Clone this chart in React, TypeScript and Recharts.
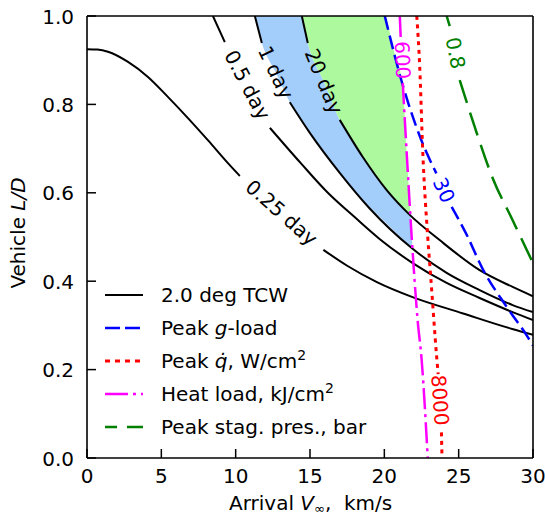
import React from 'react'
import { ComposedChart, Line, Area, XAxis, YAxis, ReferenceDot } from 'recharts'

type Pt = [number, number]
type Band = [number, number, number]

const FONT = 'DejaVu Sans, sans-serif'

const xTicks = [0, 5, 10, 15, 20, 25, 30]
const yTicks = [0, 0.2, 0.4, 0.6, 0.8, 1.0]

// 2.0 deg TCW contours (V_inf, L/D); each is split where its inline label sits
const day025A: Pt[] = [[0, 0.925], [0.7, 0.924], [1.41, 0.919], [2.76, 0.896], [4.1, 0.862], [5.44, 0.817], [6.79, 0.769], [8.13, 0.719], [9.48, 0.667], [10.28, 0.638]]
const day025B: Pt[] = [[15.9, 0.471], [17.5, 0.435], [19.5, 0.398], [21.9, 0.364], [25.3, 0.327], [28.6, 0.292], [30, 0.279]]
const day05A: Pt[] = [[8.47, 1.0], [9.27, 0.941]]
const day05B: Pt[] = [[12.3, 0.747], [14.38, 0.667], [16.2, 0.6], [18.0, 0.545], [19.7, 0.495], [21.91, 0.441], [24.19, 0.396], [26.41, 0.362], [28.63, 0.33], [30, 0.312]]
const day1A: Pt[] = [[11.29, 1.0], [11.76, 0.939]]
const day1B: Pt[] = [[13.64, 0.805], [15.0, 0.735], [17.0, 0.645], [19.0, 0.565], [21.84, 0.475], [24.19, 0.419], [26.41, 0.38], [28.63, 0.346], [30, 0.33]]
const day20A: Pt[] = [[14.45, 1.0], [14.85, 0.939]]
const day20B: Pt[] = [[17.0, 0.765], [18.55, 0.681], [20.16, 0.606], [21.71, 0.55], [23.72, 0.493], [26.41, 0.425], [28.63, 0.387], [30, 0.366]]

// constraint contours
const gloadA: Pt[] = [[20.03, 1.0], [21.27, 0.84], [22.49, 0.719], [23.5, 0.644]]
const gloadB: Pt[] = [[24.53, 0.568], [25.54, 0.505], [26.61, 0.428], [28.23, 0.342], [29.64, 0.274], [30, 0.254]]
const qdotA: Pt[] = [[22.18, 1.0], [22.38, 0.885], [22.58, 0.697], [22.92, 0.5], [23.12, 0.41], [23.52, 0.229], [23.62, 0.19]]
const qdotB: Pt[] = [[23.84, 0.058], [23.88, 0.0]]
const heatA: Pt[] = [[21.04, 1.0], [21.1, 0.952]]
const heatB: Pt[] = [[21.24, 0.848], [21.57, 0.652], [21.84, 0.5], [22.24, 0.312], [22.51, 0.222], [22.92, 0.0]]
const pstagA: Pt[] = [[24.19, 1.0], [24.4, 0.977]]
const pstagB: Pt[] = [[25.07, 0.855], [26.08, 0.749], [27.29, 0.633], [28.63, 0.538], [30, 0.441]]

// shaded regions: [V_inf, lower L/D, upper L/D]
const blueBand: Band[] = [[11.29, 1.0, 1.0], [11.76, 0.939, 1.0], [12.7, 0.872, 1.0], [13.64, 0.805, 1.0], [14.45, 0.763, 1.0], [14.85, 0.743, 0.939], [15.93, 0.693, 0.852], [17.0, 0.645, 0.765], [18.55, 0.583, 0.681], [20.16, 0.53, 0.606], [21.0, 0.502, 0.576], [21.75, 0.478, 0.549], [21.9, 0.473, 0.473]]
const greenBand: Band[] = [[14.45, 1.0, 1.0], [14.85, 0.939, 1.0], [15.93, 0.852, 1.0], [17.0, 0.765, 1.0], [18.55, 0.681, 1.0], [20.03, 0.612, 1.0], [20.6, 0.589, 0.926], [21.22, 0.567, 0.845], [21.57, 0.554, 0.652], [21.75, 0.549, 0.549]]

// inline contour labels
const labelText = ['0.25 day', '0.5 day', '1 day', '20 day', '600', '8000', '30', '0.8']
const labelAt: Pt[] = [[13.09, 0.555], [10.79, 0.844], [12.7, 0.872], [15.93, 0.852], [21.22, 0.9], [23.75, 0.131], [24.0, 0.606], [24.78, 0.916]]
const labelAngle = [41.4, 62.3, 64.6, 67.4, 87.5, 86, 65.5, 79]
const labelColor = ['#000', '#000', '#000', '#000', '#ff00ff', '#ff0000', '#0000ff', '#008000']

// legend entries: [text, style] pieces
const legendText: [string, string][][] = [
  [['2.0 deg TCW', '']],
  [['Peak ', ''], ['g', 'i'], ['-load', '']],
  [['Peak ', ''], ['q\u0307', 'i'], [', W/cm', ''], ['2', 'sup']],
  [['Heat load, kJ/cm', ''], ['2', 'sup']],
  [['Peak stag. pres., bar', '']],
]
const legendColor = ['#000000', '#0000ff', '#ff0000', '#ff00ff', '#008000']
const legendDash = ['', '15 5', '5 5', '23 5 3 5', '24 10']

function withGaps(...segs: Pt[][]) {
  const out: { x: number; y: number | null }[] = []
  segs.forEach((s, i) => {
    if (i > 0) {
      const prev = segs[i - 1][segs[i - 1].length - 1]
      out.push({ x: (prev[0] + s[0][0]) / 2, y: null })
    }
    s.forEach(([x, y]) => out.push({ x, y }))
  })
  return out
}

const bandData = (b: Band[]) => b.map(([x, lo, hi]) => ({ x, r: [lo, hi] }))

const curves = [
  { data: withGaps(day025A, day025B), color: '#000', dash: undefined, w: 2 },
  { data: withGaps(day05A, day05B), color: '#000', dash: undefined, w: 2 },
  { data: withGaps(day1A, day1B), color: '#000', dash: undefined, w: 2 },
  { data: withGaps(day20A, day20B), color: '#000', dash: undefined, w: 2 },
  { data: withGaps(gloadA, gloadB), color: '#0000ff', dash: '14 6', w: 2.5 },
  { data: withGaps(qdotA, qdotB), color: '#ff0000', dash: '4 4.5', w: 3 },
  { data: withGaps(heatA, heatB), color: '#ff00ff', dash: '21 5 3 5', w: 2.5 },
  { data: withGaps(pstagA, pstagB), color: '#008000', dash: '24 10', w: 2.5 },
]

const TICK = 9

const BottomTick = (p: any) => (
  <g>
    <line x1={p.x} y1={p.y} x2={p.x} y2={p.y - TICK} stroke="#000" strokeWidth={1.5} />
    <text x={p.x} y={p.y + 25} textAnchor="middle" fontFamily={FONT} fontSize={20} fill="#000">{p.payload.value}</text>
  </g>
)
const LeftTick = (p: any) => (
  <g>
    <line x1={p.x} y1={p.y} x2={p.x + TICK} y2={p.y} stroke="#000" strokeWidth={1.5} />
    <text x={p.x - 13} y={p.y + 7.5} textAnchor="end" fontFamily={FONT} fontSize={20} fill="#000">{Number(p.payload.value).toFixed(1)}</text>
  </g>
)
const TopTick = (p: any) => <line x1={p.x} y1={p.y} x2={p.x} y2={p.y + TICK} stroke="#000" strokeWidth={1.5} />
const RightTick = (p: any) => <line x1={p.x} y1={p.y} x2={p.x - TICK} y2={p.y} stroke="#000" strokeWidth={1.5} />

const XTitle = () => (
  <text x={229} y={510} fontFamily={FONT} fontSize={20} fill="#000" style={{ whiteSpace: 'pre' }}>
    Arrival <tspan fontStyle="italic">V</tspan>
    <tspan fontSize={13} dy={3}>∞</tspan>
    <tspan dy={-3}>,  km/s</tspan>
  </text>
)
const YTitle = () => (
  <text x={25} y={233} transform="rotate(-90 25 233)" textAnchor="middle" fontFamily={FONT} fontSize={20} fill="#000">
    Vehicle <tspan fontStyle="italic">L/D</tspan>
  </text>
)

function LegendBox() {
  const rowY = [295, 328, 361, 394, 427]
  return (
    <svg width={545} height={516} style={{ position: 'absolute', left: 0, top: 0, pointerEvents: 'none' }}>
      {legendText.map((parts, i) => (
        <g key={i}>
          <line
            x1={105} x2={143} y1={rowY[i]} y2={rowY[i]}
            stroke={legendColor[i]}
            strokeWidth={i === 0 ? 2 : i === 2 ? 3 : 2.5}
            strokeDasharray={legendDash[i] || undefined}
            strokeDashoffset={i === 4 ? 12 : 0}
          />
          <text x={161} y={rowY[i] + 7} fontFamily={FONT} fontSize={20} fill="#000">
            {parts.map(([t, s], k) =>
              s === 'i' ? <tspan key={k} fontStyle="italic">{t}</tspan>
                : s === 'sup' ? <tspan key={k} fontSize={14} dy={-8}>{t}</tspan>
                : <tspan key={k}>{t}</tspan>
            )}
          </text>
        </g>
      ))}
    </svg>
  )
}

export default function App() {
  return (
    <div style={{ position: 'absolute', left: 0, top: 0, width: 545, height: 516, background: '#fff' }}>
      <ComposedChart width={545} height={516} margin={{ top: 15, right: 11, bottom: 0, left: 0 }}>
        <XAxis
          dataKey="x" type="number" domain={[0, 30]} ticks={xTicks} interval={0} allowDataOverflow
          height={58} tickSize={0} tickMargin={0} tickLine={false} tick={BottomTick}
          axisLine={{ stroke: '#000', strokeWidth: 1.6 }} label={<XTitle />}
        />
        <XAxis
          xAxisId="top" orientation="top" dataKey="x" type="number" domain={[0, 30]} ticks={xTicks} interval={0}
          height={1} tickSize={0} tickMargin={0} tickLine={false} tick={TopTick}
          axisLine={{ stroke: '#000', strokeWidth: 1.6 }}
        />
        <YAxis
          type="number" domain={[0, 1]} ticks={yTicks} interval={0} allowDataOverflow
          width={87} tickSize={0} tickMargin={0} tickLine={false} tick={LeftTick}
          axisLine={{ stroke: '#000', strokeWidth: 1.6 }} label={<YTitle />}
        />
        <YAxis
          yAxisId="right" orientation="right" type="number" domain={[0, 1]} ticks={yTicks} interval={0}
          width={1} tickSize={0} tickMargin={0} tickLine={false} tick={RightTick}
          axisLine={{ stroke: '#000', strokeWidth: 1.6 }}
        />
        <Area data={bandData(blueBand)} dataKey="r" type="monotone" fill="#a3cdfa" fillOpacity={1} stroke="none" isAnimationActive={false} />
        <Area data={bandData(greenBand)} dataKey="r" type="monotone" fill="#adf99d" fillOpacity={1} stroke="none" isAnimationActive={false} />
        {curves.map((c, i) => (
          <Line
            key={i} data={c.data} dataKey="y" type="monotone" stroke={c.color} strokeWidth={c.w}
            strokeDasharray={c.dash} dot={false} activeDot={false} connectNulls={false} isAnimationActive={false}
          />
        ))}
        {labelText.map((t, i) => (
          <ReferenceDot
            key={t} x={labelAt[i][0]} y={labelAt[i][1]} r={0} ifOverflow="visible"
            shape={(p: any) => (
              <text
                x={p.cx} y={p.cy} transform={`rotate(${labelAngle[i]} ${p.cx} ${p.cy})`}
                textAnchor="middle" dominantBaseline="central" fontFamily={FONT} fontSize={20} fill={labelColor[i]}
              >
                {t}
              </text>
            )}
          />
        ))}
      </ComposedChart>
      <LegendBox />
    </div>
  )
}
